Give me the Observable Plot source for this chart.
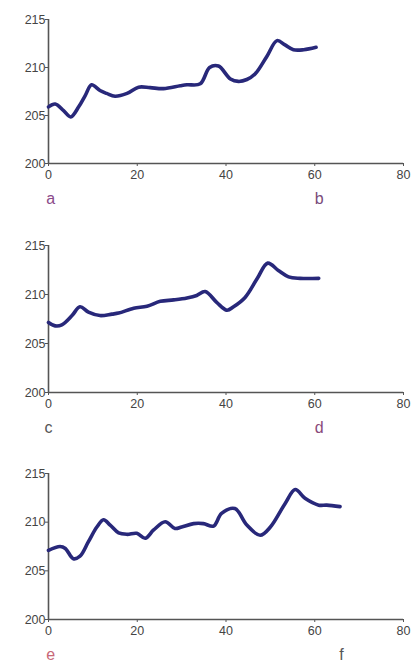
<!DOCTYPE html>
<html>
<head>
<meta charset="utf-8">
<script src="https://cdn.jsdelivr.net/npm/d3@7"></script>
<script src="https://cdn.jsdelivr.net/npm/@observablehq/plot@0.6"></script>
<style>
  body { margin: 0; background: white; }
  #chart > div, #chart > svg { display: block; }
</style>
</head>
<body>
<div id="chart"></div>
<script>
const xTicks = [0, 20, 40, 60, 80];
const yTicks = [200, 205, 210, 215];

const xA = [0, 1.5, 3.4, 5, 6.8, 8.3, 9.7, 11.6, 13.1, 15, 17.7, 20.3, 22.9, 25.9, 29.7, 31.2, 34.2, 36.3, 38.3, 41, 42.8, 44.7, 46.6, 49.2, 51.5, 53.3, 55.2, 57.5, 60.3];
const yA = [205.9, 206.2, 205.5, 204.85, 205.9, 207.1, 208.2, 207.6, 207.3, 207.0, 207.3, 207.95, 207.9, 207.8, 208.1, 208.2, 208.3, 210.0, 210.15, 208.8, 208.55, 208.75, 209.35, 211.15, 212.8, 212.35, 211.85, 211.85, 212.1];

const xB = [0, 1.5, 3, 5.3, 7.1, 9, 11.6, 14.3, 15.8, 19.2, 22.2, 25.2, 28.2, 31.2, 33.4, 35.3, 37.9, 40.2, 41.7, 44.3, 47, 49.4, 51.8, 54.1, 56.7, 60.9];
const yB = [207.15, 206.8, 206.9, 207.85, 208.75, 208.2, 207.85, 208.0, 208.1, 208.6, 208.8, 209.3, 209.45, 209.65, 209.9, 210.3, 209.2, 208.4, 208.75, 209.7, 211.6, 213.2, 212.45, 211.8, 211.65, 211.65];

const xC = [0, 2.6, 3.8, 5.6, 7.1, 9, 10.9, 12.4, 13.9, 15.8, 17.7, 19.9, 21.8, 23.7, 26.3, 28.5, 30, 32.7, 34.9, 37.2, 39, 42, 44.7, 47.7, 50, 53.3, 55.6, 57.8, 60.9, 62.7, 65.7];
const yC = [207.1, 207.5, 207.3, 206.25, 206.5, 208.0, 209.5, 210.25, 209.7, 208.9, 208.75, 208.85, 208.35, 209.2, 210.05, 209.35, 209.5, 209.85, 209.85, 209.6, 210.9, 211.4, 209.7, 208.65, 209.5, 211.9, 213.35, 212.45, 211.75, 211.75, 211.6];

const lettersA = [{x: 0.5, t: "a", c: "#8a4a8a"}, {x: 61, t: "b", c: "#7a4a7a"}];
const lettersB = [{x: 0, t: "c", c: "#555555"}, {x: 61, t: "d", c: "#8a4a7a"}];
const lettersC = [{x: 0.5, t: "e", c: "#c86878"}, {x: 66, t: "f", c: "#555555"}];

function panel(xs, ys, letters, height, mt, mb) {
  const data = xs.map((x, i) => ({x, y: ys[i]}));
  return Plot.plot({
    width: 416, height,
    marginTop: mt, marginBottom: mb, marginLeft: 48, marginRight: 13,
    x: {domain: [0, 80]},
    y: {domain: [200, 215]},
    style: {fontFamily: "Liberation Sans, Arial, sans-serif", fontSize: "12px", color: "#444", background: "white"},
    marks: [
      Plot.axisX({ticks: xTicks, tickSize: 3, tickPadding: 4, fontSize: 12.5, fill: "#444", stroke: "#555", label: null}),
      Plot.axisY({ticks: yTicks, tickSize: 3, tickPadding: 0, fontSize: 12.5, fill: "#444", stroke: "#555", label: null}),
      Plot.ruleX([0], {stroke: "#555", strokeWidth: 1.6}),
      Plot.ruleY([200], {stroke: "#555", strokeWidth: 1.6}),
      Plot.line(data, {x: "x", y: "y", stroke: "#28287a", strokeWidth: 3.6, curve: "catmull-rom"}),
      ...letters.map(l => Plot.text([l], {x: "x", text: "t", fill: l.c, frameAnchor: "bottom", dy: 40, fontSize: 16}))
    ]
  });
}

const chart = document.getElementById("chart");
chart.append(panel(xA, yA, lettersA, 220, 19, 57));
chart.append(panel(xB, yB, lettersB, 220, 25, 48));
chart.append(panel(xC, yC, lettersC, 230, 33, 51));
</script>
</body>
</html>
